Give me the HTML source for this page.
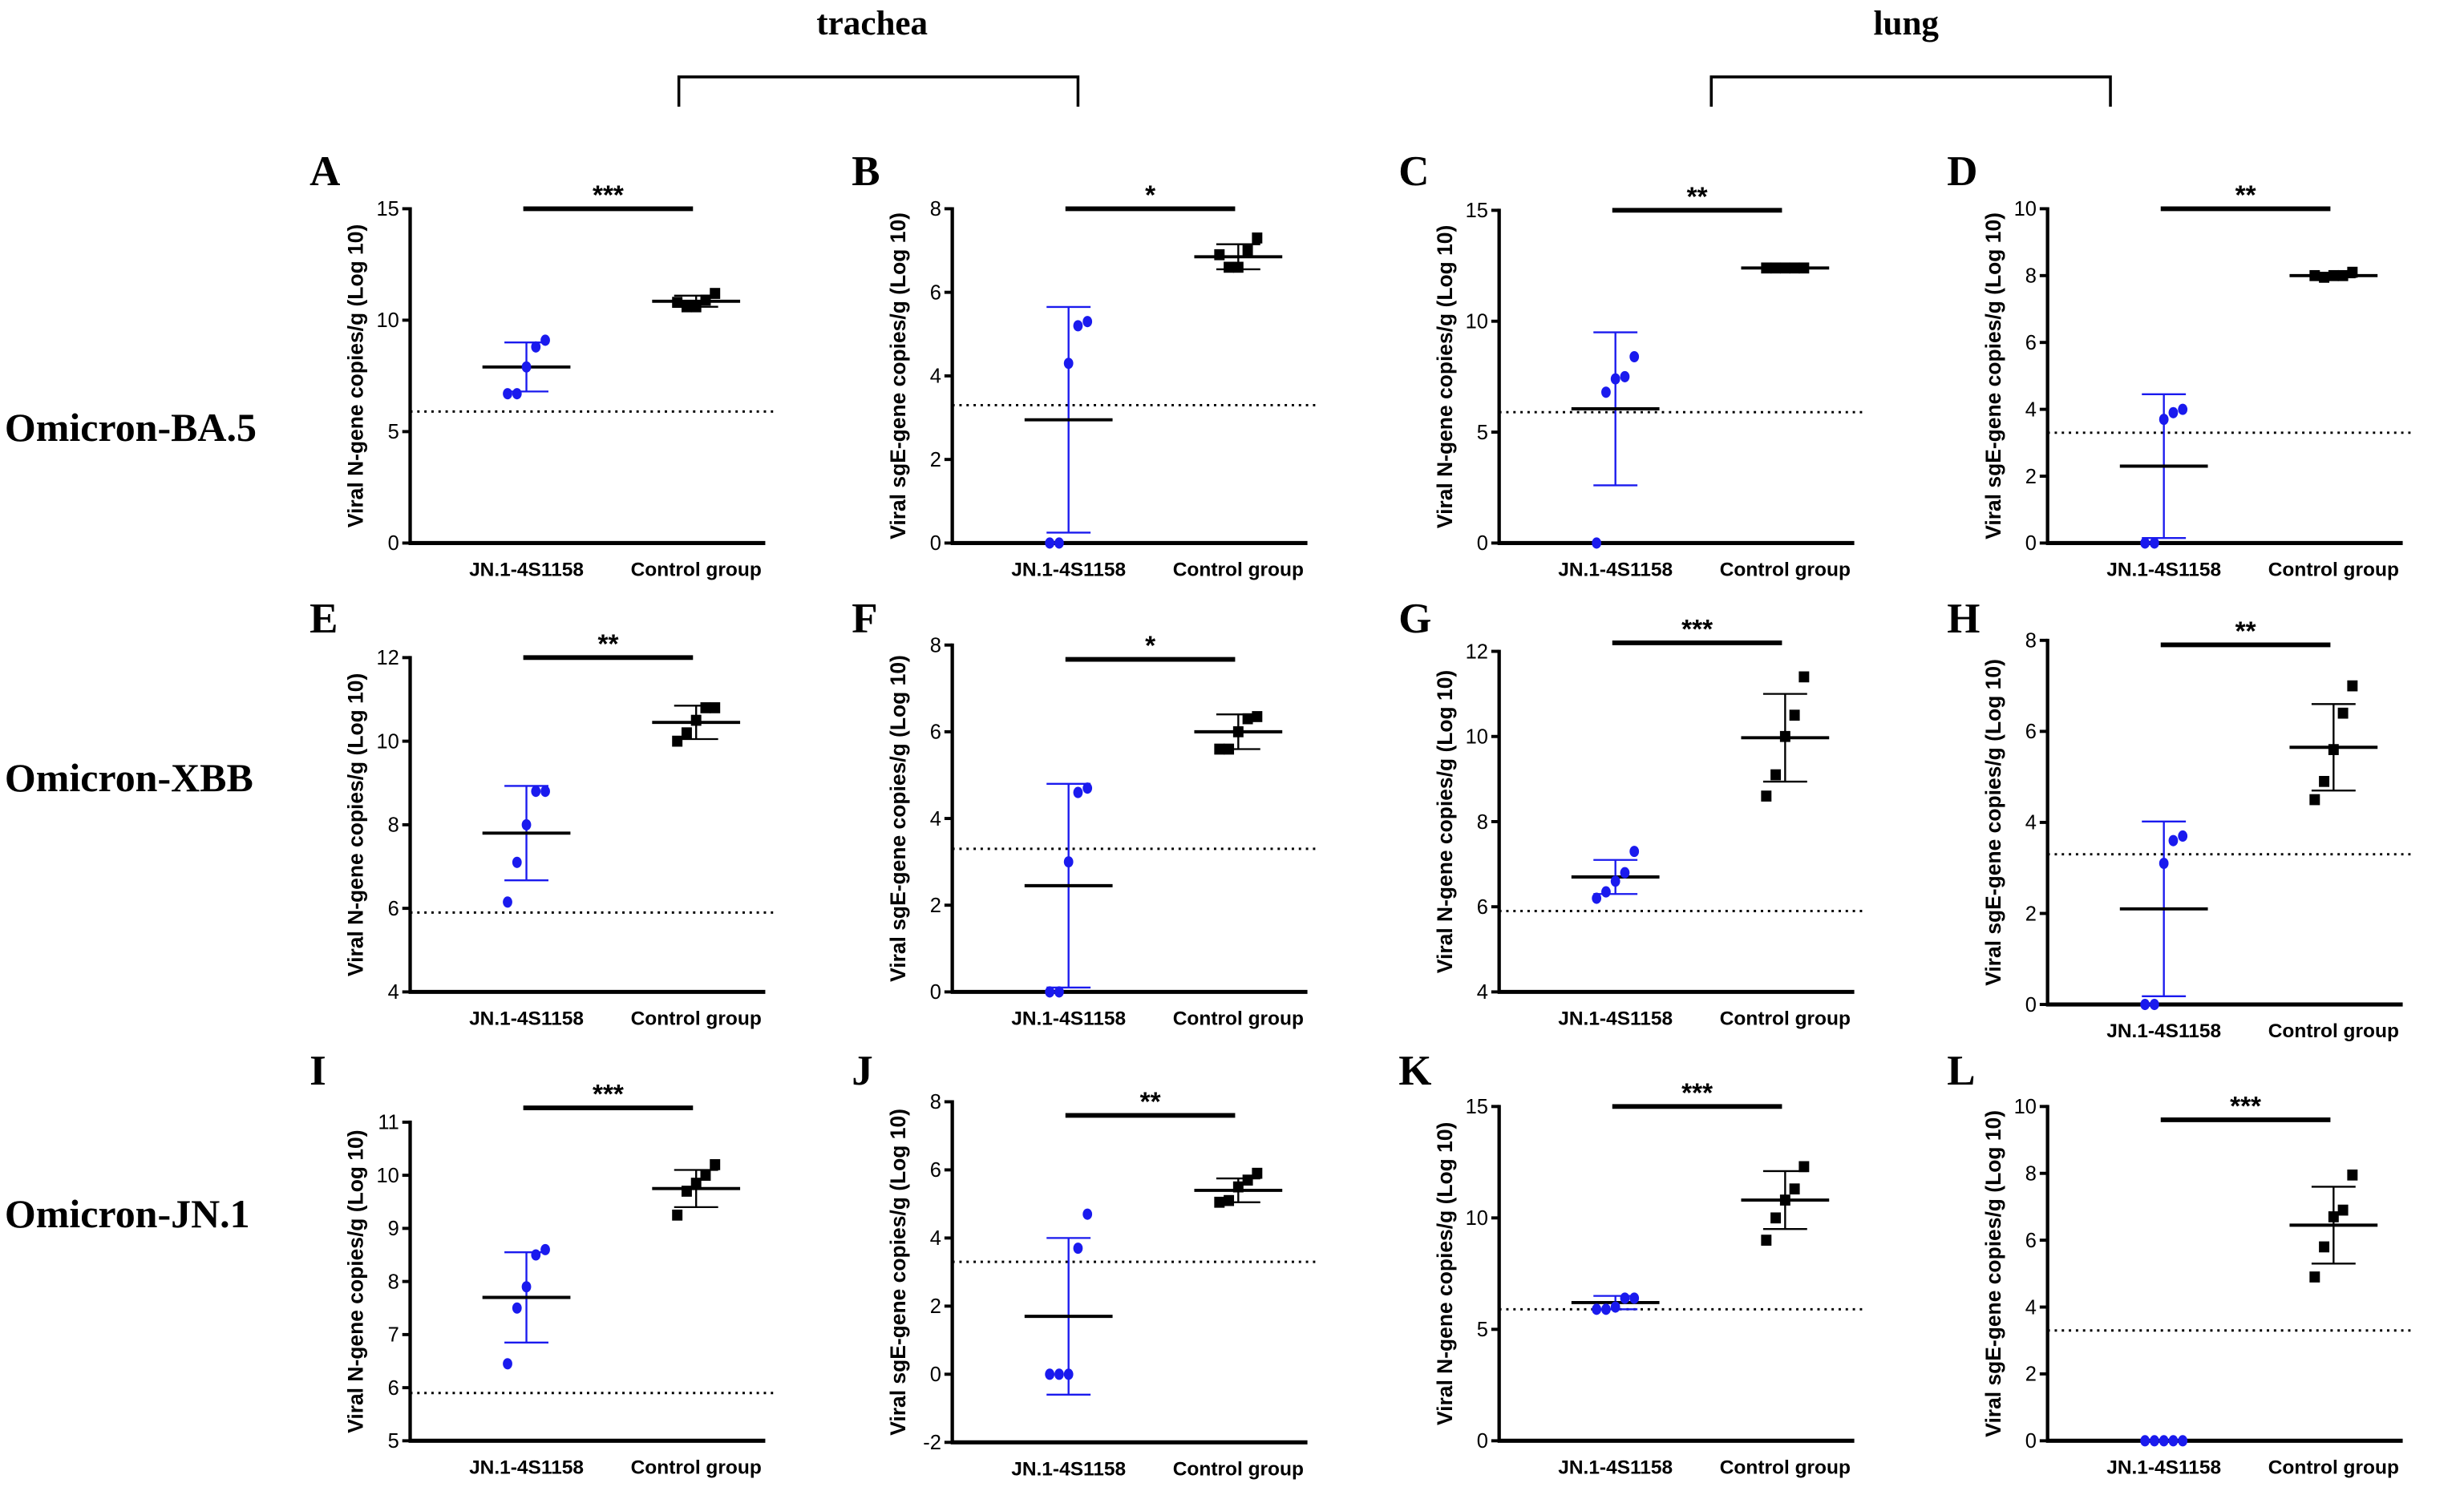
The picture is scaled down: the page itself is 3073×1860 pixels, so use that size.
<!DOCTYPE html>
<html><head><meta charset="utf-8"><style>
html,body{margin:0;padding:0;background:#fff}
svg{display:block}
text{font-family:"Liberation Sans",Arial,sans-serif}
.serif{font-family:"Liberation Serif","Times New Roman",serif;font-weight:bold}
</style></head><body>
<svg id="fig" width="3073" height="1860" viewBox="0 0 1568 950" preserveAspectRatio="none" xmlns="http://www.w3.org/2000/svg">
<g>
<text class="serif" x="555" y="22" font-size="22" text-anchor="middle">trachea</text>
<path d="M432 68 V49 H686 V68" fill="none" stroke="#000" stroke-width="1.8"/>
</g>
<g>
<text class="serif" x="1213" y="22" font-size="22" text-anchor="middle">lung</text>
<path d="M1089 68 V49 H1343 V68" fill="none" stroke="#000" stroke-width="1.8"/>
</g>
<text class="serif" x="3" y="281" font-size="25.5">Omicron-BA.5</text>
<text class="serif" x="3" y="504" font-size="25.5">Omicron-XBB</text>
<text class="serif" x="3" y="782" font-size="25.5">Omicron-JN.1</text>
</svg>
<script>
const panelLetters = ["A","B","C","D","E","F","G","H","I","J","K","L"];
const yMins = [0,0,0,0,4,0,4,0,5,-2,0,0];
const yMaxs = [15,8,15,10,12,8,12,8,11,8,15,10];
const tickSteps = [5,2,5,2,2,2,2,2,1,2,5,2];
const lodValues = [5.9,3.3,5.9,3.3,5.9,3.3,5.9,3.3,5.9,3.3,5.9,3.3];
const sigLabels = ["***","*","**","**","**","*","***","**","***","**","***","***"];
const sigValues = [15,8,15,10,12,7.67,12.2,7.9,11.27,7.6,15,9.6];
const groupNames = ["JN.1-4S1158","Control group"];
const vaccineValues = [
 [9.1,8.8,7.9,6.7,6.7],[5.3,5.2,4.3,0,0],[8.4,7.5,7.4,6.8,0],[4.0,3.9,3.7,0,0],
 [8.8,8.8,8.0,7.1,6.15],[4.7,4.6,3.0,0,0],[7.3,6.8,6.6,6.35,6.2],[3.7,3.6,3.1,0,0],
 [8.6,8.5,7.9,7.5,6.45],[4.7,3.7,0,0,0],[6.4,6.4,6.0,5.9,5.9],[0,0,0,0,0]];
const vaccineMeans = [7.9,2.95,6.05,2.3,7.8,2.45,6.7,2.1,7.7,1.7,6.2,0];
const vaccineSDs = [1.1,2.7,3.45,2.15,1.13,2.35,0.4,1.92,0.85,2.3,0.3,0];
const controlValues = [
 [11.2,10.9,10.6,10.6,10.8],[7.3,7.0,6.6,6.6,6.9],[12.4,12.4,12.4,12.4,12.4],[8.1,8.0,8.0,7.95,8.0],
 [10.8,10.8,10.5,10.2,10.0],[6.35,6.3,6.0,5.6,5.6],[11.4,10.5,10.0,9.1,8.6],[7.0,6.4,5.6,4.9,4.5],
 [10.2,10.0,9.85,9.7,9.25],[5.9,5.7,5.5,5.1,5.05],[12.3,11.3,10.8,10.0,9.0],[7.95,6.9,6.7,5.8,4.9]];
const controlMeans = [10.85,6.85,12.4,8.0,10.45,6.0,9.97,5.65,9.75,5.4,10.8,6.45];
const controlSDs = [0.25,0.3,0.05,0.05,0.4,0.4,1.03,0.95,0.35,0.35,1.3,1.15];

// layout (not data)
const axX = [261,606,954,1303];
const rowTop = [[133,133,134,133],[419,411,415,408],[715,702,705,705]];
const rowBot = [[346,346,346,346],[632,632,632,640],[918,919,918,918]];
const letterY = [118,403,691];
const jitter = [12,6,0,-6,-12];
const NS = "http://www.w3.org/2000/svg";
const svg = document.getElementById("fig");
function mk(tag, attrs, parent){const e=document.createElementNS(NS,tag);for(const k in attrs)e.setAttribute(k,attrs[k]);(parent||svg).appendChild(e);return e;}

panelLetters.forEach((L,i)=>{
  const r=Math.floor(i/4), c=i%4;
  const x0=axX[c], top=rowTop[r][c], bot=rowBot[r][c], x1=x0+226;
  const ymin=yMins[i], ymax=yMaxs[i];
  const ys=v=>bot-(v-ymin)/(ymax-ymin)*(bot-top);
  const g1=x0+74, g2=x0+182;
  const g=mk("g",{});
  
  
  const lt=mk("text",{x:x0-64,y:letterY[r],"font-size":27,class:"serif"},g); lt.textContent=L;
  
  
  const lod=mk("line",{x1:x0,x2:x1+8,y1:ys(lodValues[i]),y2:ys(lodValues[i]),stroke:"#000","stroke-width":1.5,"stroke-dasharray":"1.5 3"},g);
  
  
  const ya=mk("line",{x1:x0,x2:x0,y1:top-1,y2:bot,stroke:"#000","stroke-width":2.2},g);
  
  
  const xa=mk("line",{x1:x0-1,x2:x1,y1:bot,y2:bot,stroke:"#000","stroke-width":2.6},g);
  
  
  for(let v=ymin; v<=ymax+1e-9; v+=tickSteps[i]){
    const tk=mk("line",{x1:x0-5,x2:x0,y1:ys(v),y2:ys(v),stroke:"#000","stroke-width":2},g);
    
    
    const tl=mk("text",{x:x0-7,y:ys(v)+4.5,"font-size":13,"text-anchor":"end"},g); tl.textContent=String(v);
    
    
  }
  const yl=mk("text",{x:0,y:0,"font-size":13.5,"font-weight":"bold","text-anchor":"middle",transform:`translate(${x0-30},${(top+bot)/2}) rotate(-90)`},g);
  yl.textContent = (i%2===0) ? "Viral N-gene copies/g (Log 10)" : "Viral sgE-gene copies/g (Log 10)";
  
  
  [g1,g2].forEach((gx,k)=>{
    const t=mk("text",{x:gx,y:bot+21,"font-size":12.5,"font-weight":"bold","text-anchor":"middle"},g); t.textContent=groupNames[k];
    
    
  });
  const sy=ys(sigValues[i]);
  const sb=mk("line",{x1:g1-2,x2:g2-2,y1:sy,y2:sy,stroke:"#000","stroke-width":3},g);
  
  
  const st=mk("text",{x:(g1+g2)/2-2,y:sy-3,"font-size":17,"font-weight":"bold","text-anchor":"middle"},g); st.textContent=sigLabels[i];
  
  
  const groups=[[g1,vaccineValues[i],vaccineMeans[i],vaccineSDs[i],"#1a1aee"],[g2,controlValues[i],controlMeans[i],controlSDs[i],"#000"]];
  groups.forEach(([gx,vals,m,sd,col],k)=>{
    const eb=mk("path",{d:`M${gx-14} ${ys(m+sd)} H${gx+14} M${gx} ${ys(m+sd)} V${ys(m-sd)} M${gx-14} ${ys(m-sd)} H${gx+14}`,stroke:col,"stroke-width":1.2,fill:"none"},g);
    
    
    const ml=mk("line",{x1:gx-28,x2:gx+28,y1:ys(m),y2:ys(m),stroke:"#000","stroke-width":2},g);
    
    
    vals.forEach((v,j)=>{
      let p;
      if(k===0){ p=mk("ellipse",{cx:gx+jitter[j],cy:ys(v),rx:3,ry:3.6,fill:col},g);
         }
      else { p=mk("rect",{x:gx+jitter[j]-3.3,y:ys(v)-3.5,width:6.6,height:7,fill:col},g);
         }
      
    });
  });
});
</script>
</body></html>
